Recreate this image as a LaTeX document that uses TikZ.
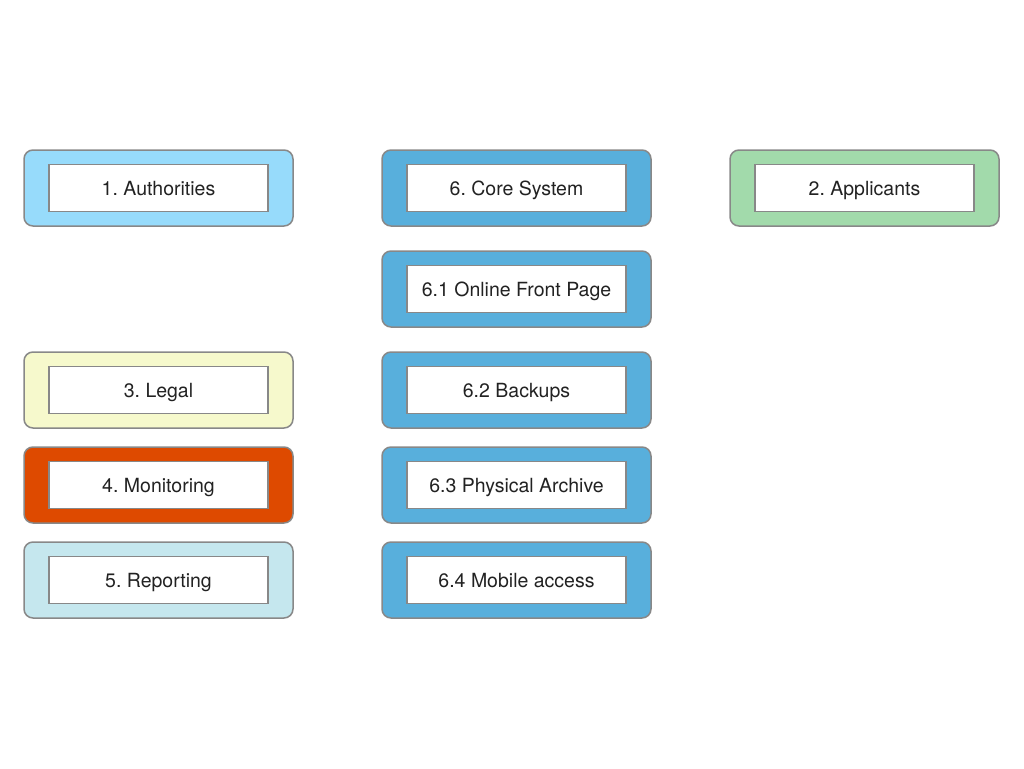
\documentclass[tikz,border=0pt]{standalone}
\usepackage{fontspec}
\setmainfont{TeX Gyre Heros}
\frenchspacing
\definecolor{cAuth}{HTML}{97DBFB}
\definecolor{cCore}{HTML}{58AFDC}
\definecolor{cAppl}{HTML}{A2DAAB}
\definecolor{cLegal}{HTML}{F6F9CC}
\definecolor{cMon}{HTML}{DE4A00}
\definecolor{cRep}{HTML}{C5E7EE}
\definecolor{cBorder}{HTML}{888888}
\definecolor{cText}{HTML}{222222}
\begin{document}
\begin{tikzpicture}[x=1pt,y=-1pt,
  outerbox/.style={draw=cBorder,line width=1.5pt,rounded corners=9pt,minimum width=269pt,minimum height=76pt,inner sep=0pt},
  innerbox/.style={draw=cBorder,line width=1.5pt,fill=white,minimum width=219pt,minimum height=47pt,inner sep=0pt,text=cText,text height=14pt,text depth=0pt,font=\fontsize{19.5pt}{22pt}\selectfont}]
\useasboundingbox (0,0) rectangle (1024,768);
% outer boxes
\node[outerbox,fill=cAuth] (o1) at (158.5,188) {};
\node[outerbox,fill=cCore] (o6) at (516.5,188) {};
\node[outerbox,fill=cAppl] (o2) at (864.5,188) {};
\node[outerbox,fill=cCore] (o61) at (516.5,289) {};
\node[outerbox,fill=cLegal] (o3) at (158.5,390) {};
\node[outerbox,fill=cCore] (o62) at (516.5,390) {};
\node[outerbox,fill=cMon] (o4) at (158.5,485) {};
\node[outerbox,fill=cCore] (o63) at (516.5,485) {};
\node[outerbox,fill=cRep] (o5) at (158.5,580) {};
\node[outerbox,fill=cCore] (o64) at (516.5,580) {};
% inner boxes
\node[innerbox] (i1) at (o1) {1. Authorities};
\node[innerbox] (i6) at (o6) {6. Core System};
\node[innerbox] (i2) at (o2) {2. Applicants};
\node[innerbox] (i61) at (o61) {6.1 Online Front Page};
\node[innerbox] (i3) at (o3) {3. Legal};
\node[innerbox] (i62) at (o62) {6.2 Backups};
\node[innerbox] (i4) at (o4) {4. Monitoring};
\node[innerbox] (i63) at (o63) {6.3 Physical Archive};
\node[innerbox] (i5) at (o5) {5. Reporting};
\node[innerbox] (i64) at (o64) {6.4 Mobile access};
\end{tikzpicture}
\end{document}
